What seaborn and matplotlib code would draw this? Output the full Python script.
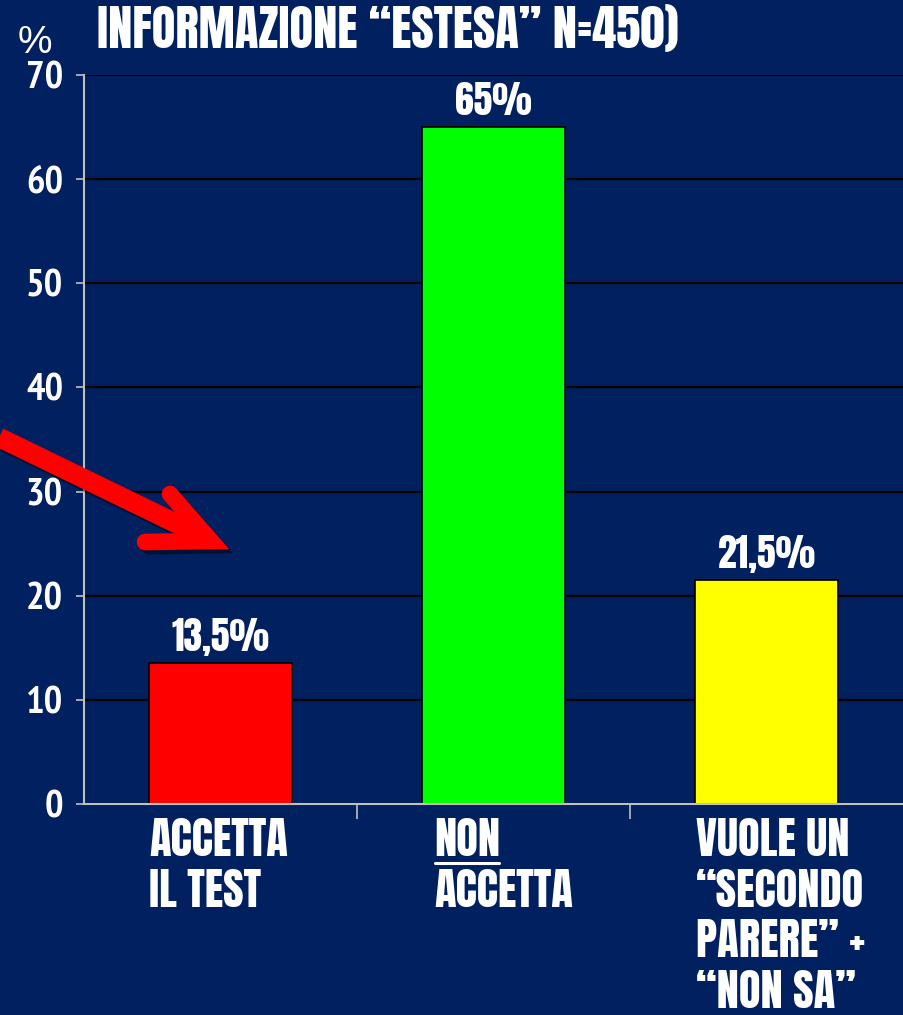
import matplotlib
matplotlib.use("Agg")
import matplotlib.pyplot as plt
import matplotlib.patheffects as pe
from matplotlib.lines import Line2D
import seaborn as sns
import pandas as pd

# Data
categories = ["ACCETTA\nIL TEST", "NON\nACCETTA", "VUOLE UN\n“SECONDO\nPARERE” +\n“NON SA”"]
values = [13.5, 65.0, 21.5]
value_labels = ["13,5%", "65%", "21,5%"]
bar_colors = ["#FF0000", "#00FF00", "#FFFF00"]
y_ticks = [0, 10, 20, 30, 40, 50, 60, 70]
title = "INFORMAZIONE “ESTESA” N=450)"

BG = "#002060"
COND = ["Anton", "DejaVu Sans"]
NARROW = ["PT Sans Narrow", "DejaVu Sans"]
BOLD = ["Liberation Sans", "DejaVu Sans"]

sns.set_theme(style="white")
plt.rcParams["font.family"] = BOLD

W, H = 904, 1015
fig = plt.figure(figsize=(W / 100, H / 100), dpi=100, facecolor=BG)
ax = fig.add_axes([84 / W, 1 - 804 / H, 1 - 84 / W - 0.001, (804 - 75) / H])
ax.set_facecolor(BG)

df = pd.DataFrame({"cat": categories, "val": values})
sns.barplot(data=df, x="cat", y="val", hue="cat", palette=bar_colors,
            saturation=1, width=0.525, edgecolor="black", linewidth=1.2,
            legend=False, ax=ax, zorder=3)

ax.set_xlim(-0.5, 2.5)
ax.set_ylim(0, 70)
ax.set_yticks(y_ticks)
ax.set_yticklabels([str(t) for t in y_ticks], color="white",
                   fontsize=28, fontweight="bold", family=NARROW)
ax.yaxis.grid(True, color="black", linewidth=1.6, zorder=0)
ax.set_axisbelow(True)
ax.tick_params(axis="y", direction="out", length=6, width=1.2,
               color="#BFBFBF", pad=9, left=True)

# category dividers on the x axis
ax.set_xticks([0.5, 1.5])
ax.set_xticklabels([])
ax.tick_params(axis="x", direction="out", length=11, width=1.2,
               color="#BFBFBF", bottom=True)
ax.set_xlabel("")
ax.set_ylabel("")

for s in ["top", "right"]:
    ax.spines[s].set_visible(False)
for s in ["left", "bottom"]:
    ax.spines[s].set_color("#BFBFBF")
    ax.spines[s].set_linewidth(1.5)
    ax.spines[s].set_zorder(4)

# value labels above the bars
for i, (v, lab) in enumerate(zip(values, value_labels)):
    ax.annotate(lab, (i, v), xytext=(0, 5), textcoords="offset points",
                ha="center", va="bottom", color="white", fontsize=27,
                family=COND)

# category labels below the axis, left aligned with the bars
label_x = [149, 434, 696]
for cat, lx in zip(categories, label_x):
    fig.text(lx / W, 1 - 818 / H, cat, ha="left", va="top", color="white",
             fontsize=32, family=COND, linespacing=1.2)

# underline under "NON"
fig.canvas.draw()
r = fig.canvas.get_renderer()
probe = fig.text(434 / W, 1 - 818 / H, "NON", ha="left", va="top",
                 fontsize=32, family=COND, alpha=0)
bb = probe.get_window_extent(renderer=r)
fig.add_artist(Line2D([(bb.x0 + 1) / W, (bb.x1 - 1) / W], [1 - 863 / H] * 2,
                      transform=fig.transFigure, color="white", linewidth=2.2))

# title and unit
fig.text(97 / W, 1 - 48 / H, title, ha="left", va="baseline", color="white",
         fontsize=35, family=COND)
fig.text(18 / W, 1 - 53 / H, "%", ha="left", va="baseline", color="white",
         fontsize=28, family=BOLD)

# red pointer arrow
shadow = [pe.SimpleLineShadow(offset=(3, -3), shadow_color="black", alpha=0.45),
          pe.Normal()]


def fx(px):
    return px / W


def fy(py):
    return 1 - py / H


shaft = Line2D([fx(-10), fx(204)], [fy(433), fy(537)], transform=fig.transFigure,
               color="#FF0000", linewidth=14, solid_capstyle="butt",
               path_effects=shadow, zorder=10)
head = Line2D([fx(170), fx(211), fx(145)], [fy(494), fy(541), fy(542)],
              transform=fig.transFigure, color="#FF0000", linewidth=12,
              solid_capstyle="round", solid_joinstyle="miter",
              path_effects=shadow, zorder=10)
fig.add_artist(shaft)
fig.add_artist(head)

fig.savefig("out.png", dpi=100, facecolor=BG)
